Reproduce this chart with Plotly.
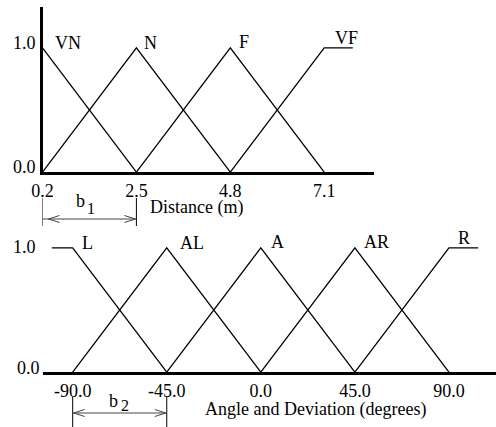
import plotly.graph_objects as go

W, H = 496, 427
FONT = "Liberation Serif"

# ---- Distance fuzzy sets (m) ----
dist_ticks = [0.2, 2.5, 4.8, 7.1]
dist_tick_text = ["0.2", "2.5", "4.8", "7.1"]
dist_names = ["VN", "N", "F", "VF"]
dist_peaks = [0.2, 2.5, 4.8, 7.1]
vn_x = [0.2, 2.5]
vn_y = [1.0, 0.0]
n_x = [0.2, 2.5, 4.8]
n_y = [0.0, 1.0, 0.0]
f_x = [2.5, 4.8, 7.1]
f_y = [0.0, 1.0, 0.0]
vf_x = [4.8, 7.1, 7.8]
vf_y = [0.0, 1.0, 1.0]

# ---- Angle / deviation fuzzy sets (degrees) ----
ang_ticks = [-90.0, -45.0, 0.0, 45.0, 90.0]
ang_tick_text = ["-90.0", "-45.0", "0.0", "45.0", "90.0"]
ang_names = ["L", "AL", "A", "AR", "R"]
ang_peaks = [-90.0, -45.0, 0.0, 45.0, 90.0]
l_x = [-100.0, -90.0, -45.0]
l_y = [1.0, 1.0, 0.0]
al_x = [-90.0, -45.0, 0.0]
al_y = [0.0, 1.0, 0.0]
a_x = [-45.0, 0.0, 45.0]
a_y = [0.0, 1.0, 0.0]
ar_x = [0.0, 45.0, 90.0]
ar_y = [0.0, 1.0, 0.0]
r_x = [45.0, 90.0, 104.0]
r_y = [0.0, 1.0, 1.0]

y_ticks = [0.0, 1.0]
y_tick_text = ["0.0", "1.0"]

# widths b1 / b2 span the first two set centres
b1_span = [0.2, 2.5]
b2_span = [-90.0, -45.0]


def py(v):
    """pixel row -> paper y"""
    return 1 - v / H


def px(v):
    """pixel column -> paper x"""
    return v / W


fig = go.Figure()
line_style = dict(color="black", width=1.3)

for xs, ys in [(vn_x, vn_y), (n_x, n_y), (f_x, f_y), (vf_x, vf_y)]:
    fig.add_trace(go.Scatter(x=xs, y=ys, mode="lines", line=line_style,
                             xaxis="x", yaxis="y", hoverinfo="skip"))
for xs, ys in [(l_x, l_y), (al_x, al_y), (a_x, a_y), (ar_x, ar_y), (r_x, r_y)]:
    fig.add_trace(go.Scatter(x=xs, y=ys, mode="lines", line=line_style,
                             xaxis="x2", yaxis="y2", hoverinfo="skip"))

tickfont = dict(family=FONT, size=18, color="black")
common = dict(showgrid=False, zeroline=False, ticks="", automargin=False)

fig.update_layout(
    template="none",
    width=W, height=H,
    margin=dict(l=0, r=0, t=0, b=0, pad=0),
    paper_bgcolor="white", plot_bgcolor="white",
    showlegend=False,
    font=dict(family=FONT, size=18, color="black"),
    xaxis=dict(domain=[px(42.5), px(374)], range=[0.2, 8.32],
               showline=True, linewidth=3, linecolor="black",
               tickvals=dist_ticks, ticktext=dist_tick_text,
               tickfont=tickfont, anchor="y", **common),
    yaxis=dict(domain=[py(172.2), py(7)], range=[0, (172.2 - 7) / 124.4],
               showline=True, linewidth=3, linecolor="black",
               showticklabels=False, anchor="x", **common),
    xaxis2=dict(domain=[px(43), 1.0], range=[-104.2, 112.5],
                showline=True, linewidth=3, linecolor="black",
                tickvals=ang_ticks, ticktext=ang_tick_text,
                tickfont=tickfont, anchor="y2", **common),
    yaxis2=dict(domain=[py(372.2), py(230)], range=[0, (372.2 - 230) / 124.4],
                showline=False, showticklabels=False, anchor="x2", **common),
)

ann = []
# y tick labels (right-aligned, left of each plot)
for yref, shifts, right in [("y", [5, 4.5], [38, 38]), ("y2", [4.5, 1], [42, 38])]:
    for v, t, s, r in zip(y_ticks, y_tick_text, shifts, right):
        ann.append(dict(x=px(r), xref="paper", y=v, yref=yref, yshift=s,
                        text=t, showarrow=False, xanchor="right",
                        yanchor="middle", font=tickfont))

# set names next to each peak
dist_offsets = [(25, 5), (14, 5), (14, 6), (22, 10)]
for name, pk, (dx, dy) in zip(dist_names, dist_peaks, dist_offsets):
    ann.append(dict(x=pk, y=1.0, xref="x", yref="y", xshift=dx, yshift=dy,
                    text=name, showarrow=False, xanchor="center",
                    yanchor="middle", font=tickfont))
ang_offsets = [(15, 5), (25, 5), (17, 6), (22, 6), (15, 10)]
for name, pk, (dx, dy) in zip(ang_names, ang_peaks, ang_offsets):
    ann.append(dict(x=pk, y=1.0, xref="x2", yref="y2", xshift=dx, yshift=dy,
                    text=name, showarrow=False, xanchor="center",
                    yanchor="middle", font=tickfont))

# axis titles
ann.append(dict(x=px(148), y=py(207), xref="paper", yref="paper",
                text="Distance (m)", showarrow=False, xanchor="left",
                yanchor="middle", font=tickfont))
ann.append(dict(x=px(203), y=py(409), xref="paper", yref="paper",
                text="Angle and Deviation (degrees)", showarrow=False,
                xanchor="left", yanchor="middle", font=tickfont))

# b1 / b2 labels
for sub, (by, sy), (bx, sx) in [("1", (201, 208), (80, 91)),
                                ("2", (401, 405), (113, 125))]:
    ann.append(dict(x=px(bx), y=py(by), xref="paper", yref="paper", text="b",
                    showarrow=False, xanchor="center", yanchor="middle",
                    font=tickfont))
    ann.append(dict(x=px(sx), y=py(sy), xref="paper", yref="paper", text=sub,
                    showarrow=False, xanchor="center", yanchor="middle",
                    font=dict(family=FONT, size=16, color="black")))

shapes = []
thin = dict(color="black", width=1)
for span, xr, (top, bot, ay), gap in [(b1_span, "x", (198, 226, 219), 6),
                                      (b2_span, "x2", (397, 428, 413), 1)]:
    for v in span:
        shapes.append(dict(type="line", xref=xr, yref="paper", x0=v, x1=v,
                           y0=py(top), y1=py(bot), line=thin))
    shapes.append(dict(type="line", xref=xr, yref="paper", x0=span[0], x1=span[1],
                       y0=py(ay), y1=py(ay), line=dict(color="#444", width=1)))
    # open arrowheads anchored on each end of the span
    shapes.append(dict(type="path", xref=xr, yref="paper", xsizemode="pixel",
                       ysizemode="pixel", xanchor=span[0], yanchor=py(ay),
                       path=f"M {gap+11},3.5 L {gap},0 L {gap+11},-3.5",
                       line=dict(color="#444", width=1)))
    shapes.append(dict(type="path", xref=xr, yref="paper", xsizemode="pixel",
                       ysizemode="pixel", xanchor=span[1], yanchor=py(ay),
                       path="M -12,3.5 L -1,0 L -12,-3.5",
                       line=dict(color="#444", width=1)))

fig.update_layout(annotations=ann, shapes=shapes)
fig.write_html("out.html")
